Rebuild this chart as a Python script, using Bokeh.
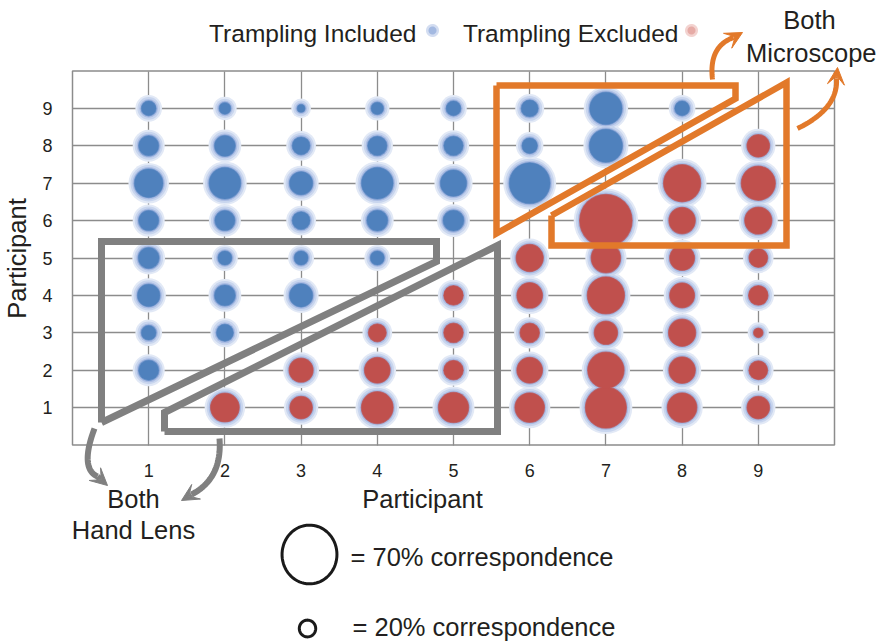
import numpy as np
from bokeh.plotting import figure
from bokeh.models import (ColumnDataSource, FixedTicker, Label, Arrow, VeeHead,
                          Range1d, Grid)
from bokeh.embed import file_html
from bokeh.resources import INLINE

# ---------------- data ----------------
participants = [1, 2, 3, 4, 5, 6, 7, 8, 9]
tick_labels = ["1", "2", "3", "4", "5", "6", "7", "8", "9"]

# Trampling Included (blue): x participant, y participant, % correspondence
included_x = [1, 1, 1, 1, 1, 1, 1, 1, 2, 2, 2, 2, 2, 2, 2, 3, 3, 3, 3, 3, 3,
              4, 4, 4, 4, 4, 5, 5, 5, 5, 6, 6, 6, 7, 7, 8]
included_y = [2, 3, 4, 5, 6, 7, 8, 9, 3, 4, 5, 6, 7, 8, 9, 4, 5, 6, 7, 8, 9,
              5, 6, 7, 8, 9, 6, 7, 8, 9, 7, 8, 9, 8, 9, 9]
included_pct = [26, 19, 29, 27, 26, 37, 26, 19, 22, 27, 18, 26, 41, 27, 15,
                30, 18, 23, 30, 23, 10, 18, 27, 41, 25, 16, 27, 34, 25, 19,
                53, 20, 22, 43, 42, 19]

# Trampling Excluded (red)
excluded_x = [2, 3, 3, 4, 4, 4, 5, 5, 5, 5, 6, 6, 6, 6, 6, 7, 7, 7, 7, 7, 7,
              8, 8, 8, 8, 8, 8, 8, 9, 9, 9, 9, 9, 9, 9, 9]
excluded_y = [1, 1, 2, 1, 2, 3, 1, 2, 3, 4, 1, 2, 3, 4, 5, 1, 2, 3, 4, 5, 6,
              1, 2, 3, 4, 5, 6, 7, 1, 2, 3, 4, 5, 6, 7, 8]
excluded_pct = [37, 29, 31, 41, 33, 23, 39, 25, 25, 25, 38, 33, 25, 33, 35,
                53, 47, 30, 48, 38, 68, 38, 34, 35, 32, 32, 34, 48,
                29, 24, 12, 25, 24, 35, 44, 29]

legend_pcts = [70, 20]
legend_texts = ["= 70% correspondence", "= 20% correspondence"]
series_names = ["Trampling Included", "Trampling Excluded"]

# ---------------- style ----------------
PX_PER_PCT = 0.77          # bubble diameter (px) per % correspondence
FONT = "Liberation Sans"
TXT = "#231f20"
GRID = "#8c8c8c"
BLUE = "#4f81bd"
RED = "#c0504d"
GRAY = "#808080"
ORANGE = "#e2792a"

# page pixel <-> data mapping (grid 0..10 occupies x 72..834, y 444.5..70.5)
W, H = 878, 643
X0, XS, Y0, YS = 72.0, 76.2, 444.5, 37.4


def dx(px):
    return (np.asarray(px, dtype=float) - X0) / XS


def dy(py):
    return (Y0 - np.asarray(py, dtype=float)) / YS


p = figure(width=W, height=H, x_range=Range1d(float(dx(0)), float(dx(W))),
           y_range=Range1d(float(dy(H)), float(dy(0))), min_border=0,
           output_backend="svg", toolbar_location=None, title=None,
           background_fill_color="white", border_fill_color="white")
p.outline_line_color = None

for ax in (p.xaxis[0], p.yaxis[0]):
    ax.fixed_location = 0
    ax.bounds = (0, 10)
    ax.ticker = FixedTicker(ticks=participants)
    ax.major_label_overrides = {v: t for v, t in zip(participants, tick_labels)}
    ax.axis_line_color = None
    ax.major_tick_line_color = None
    ax.minor_tick_line_color = None
    ax.major_label_text_font = FONT
    ax.major_label_text_font_size = "18px"
    ax.major_label_text_color = TXT
p.xaxis.major_label_standoff = 13
p.yaxis.major_label_standoff = 14
p.yaxis.axis_label = "Participant"
p.yaxis.axis_label_text_font = FONT
p.yaxis.axis_label_text_font_size = "25.5px"
p.yaxis.axis_label_text_font_style = "normal"
p.yaxis.axis_label_text_color = TXT
p.yaxis.axis_label_standoff = 8

has_cross = "cross_bounds" in Grid.properties()
for g in (p.xgrid[0], p.ygrid[0]):
    g.ticker = FixedTicker(ticks=participants)
    g.grid_line_color = GRID
    g.grid_line_width = 1.3
    g.bounds = (0, 10)
    if has_cross:
        g.cross_bounds = (0, 10)
    else:
        g.visible = False
if not has_cross:
    p.segment(participants, [0] * 9, participants, [10] * 9, line_color=GRID, line_width=1.3)
    p.segment([0] * 9, participants, [10] * 9, participants, line_color=GRID, line_width=1.3)
p.quad(left=[0], right=[10], bottom=[0], top=[10], fill_color=None,
       line_color=GRID, line_width=1.5)


def make_src(xs, ys, pcts):
    core = [v * PX_PER_PCT for v in pcts]
    return ColumnDataSource(dict(x=xs, y=ys, pct=pcts, core=core,
                                 g1=[c + 12 for c in core], g2=[c + 8 for c in core],
                                 g3=[c + 4 for c in core], g4=[c + 1.5 for c in core]))


src_in = make_src(included_x, included_y, included_pct)
src_ex = make_src(excluded_x, excluded_y, excluded_pct)

# soft light-blue glow drawn beneath all cores
for col, colr in (("g1", "#e2e9f6"), ("g2", "#c8d5ee"), ("g3", "#abbde4")):
    for src in (src_in, src_ex):
        p.scatter("x", "y", source=src, size=col, fill_color=colr, line_color=None)
p.scatter("x", "y", source=src_in, size="g4", fill_color="#7196cc", line_color=None)
p.scatter("x", "y", source=src_ex, size="g4", fill_color="#b56b78", line_color=None)
p.scatter("x", "y", source=src_in, size="core", fill_color=BLUE, line_color=None)
p.scatter("x", "y", source=src_ex, size="core", fill_color=RED, line_color=None)

# ---------------- annotations ----------------
frames = [
    ([101, 101, 436, 436, 101], [422, 241, 241, 261, 422], GRAY, 7),
    ([164, 164, 497, 497, 164], [431, 412, 245, 431, 431], GRAY, 7),
    ([496, 735, 735, 496, 496], [85, 85, 98, 233, 85], ORANGE, 6.5),
    ([551, 551, 786, 786, 551], [215, 245, 245, 82, 215], ORANGE, 6.5),
]
for fx, fy, c, w in frames:
    p.line(list(dx(fx)), list(dy(fy)), line_color=c, line_width=w, line_join="miter")

arrows = [
    ((94, 428), (79, 468), (97, 476), (107, 485), GRAY, 6),
    ((219, 438), (222, 478), (191, 494), (181, 500), GRAY, 6),
    ((712, 79), (708, 46), (733, 37), (742, 32), ORANGE, 5),
    ((797, 128), (838, 108), (836, 78), (837, 67), ORANGE, 5),
]
t = np.linspace(0, 1, 30)
for S, C, E, T, c, w in arrows:
    bx = (1 - t) ** 2 * S[0] + 2 * (1 - t) * t * C[0] + t ** 2 * E[0]
    by = (1 - t) ** 2 * S[1] + 2 * (1 - t) * t * C[1] + t ** 2 * E[1]
    p.line(list(dx(bx)), list(dy(by)), line_color=c, line_width=w, line_cap="butt")
    p.add_layout(Arrow(end=VeeHead(size=17, fill_color=c, line_color=c, line_width=1),
                       x_start=float(dx(E[0])), y_start=float(dy(E[1])),
                       x_end=float(dx(T[0])), y_end=float(dy(T[1])),
                       line_color=c, line_width=w))


def ellipse(cx, cy, rx, ry, n=72):
    a = np.linspace(0, 2 * np.pi, n)
    return list(dx(cx + rx * np.cos(a))), list(dy(cy + ry * np.sin(a)))


# top legend markers (soft dots after the text)
for cx, outer, inner in ((432, "#d3ddf1", "#a3b9e1"), (691, "#f3d3d0", "#e6aba6")):
    xs, ys = ellipse(cx, 30, 6.5, 6.5)
    p.patch(xs, ys, fill_color=outer, line_color=None)
    xs, ys = ellipse(cx, 30, 4, 4)
    p.patch(xs, ys, fill_color=inner, line_color=None)

# bottom size legend
for pct, cx, cy in zip(legend_pcts, (309, 307), (554, 628)):
    d = pct * PX_PER_PCT
    xs, ys = ellipse(cx, cy, d / 2 + 0.5, d / 2 * 1.09)
    p.patch(xs, ys, fill_color=None, line_color="#1a1a1a", line_width=3)

# texts: (text, x px, baseline px, align, size px)
texts = [
    (series_names[0], 416, 41.5, "right", 24.5),
    (series_names[1], 678, 41.5, "right", 24.5),
    ("Both", 809, 28, "center", 25.5),
    ("Microscope", 876, 61, "right", 25.5),
    ("Both", 133, 507, "center", 25.5),
    ("Hand Lens", 133, 538, "center", 25.5),
    ("Participant", 422, 507, "center", 25.5),
    (legend_texts[0], 350, 565, "left", 25.5),
    (legend_texts[1], 352, 635, "left", 25.5),
]
for s, x, base, al, fs in texts:
    mid = base - 0.35 * fs
    p.add_layout(Label(x=float(dx(x)), y=float(dy(mid)), text=s, text_align=al,
                       text_baseline="middle", text_font=FONT,
                       text_font_size=f"{fs}px", text_color=TXT))

open("out.html", "w").write(file_html(p, INLINE))
